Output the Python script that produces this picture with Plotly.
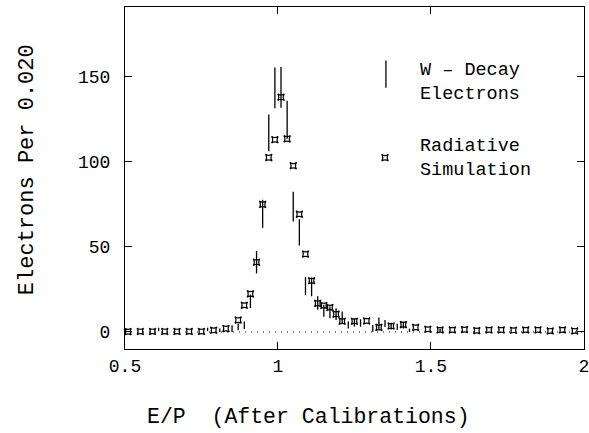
import plotly.graph_objects as go

# ---- data ----
# W-decay electrons: bin centre, count, error
data_x = [0.61, 0.77, 0.81, 0.85, 0.87, 0.89, 0.91, 0.93, 0.95, 0.97, 0.99, 1.01,
          1.03, 1.05, 1.07, 1.09, 1.11, 1.13, 1.15, 1.17, 1.19, 1.21, 1.23, 1.25,
          1.27, 1.31, 1.33, 1.35, 1.37, 1.39, 1.41, 1.43, 1.53]
data_y = [1.5, 1.5, 1.0, 2.0, 3.0, 4.0, 18.0, 41.0, 69.5, 117.0, 143.5, 143.8,
          124.7, 73.7, 58.5, 27.0, 26.5, 17.0, 12.5, 11.5, 10.5, 8.5, 4.1, 5.6,
          5.3, 2.1, 5.0, 5.0, 3.5, 3.0, 4.0, 1.0, 1.0]
data_err = [1.0, 1.0, 1.0, 2.0, 2.0, 2.2, 4.0, 6.6, 8.2, 10.8, 12.0, 12.0,
            11.2, 8.7, 7.7, 5.3, 5.5, 4.0, 3.5, 3.5, 3.5, 3.5, 2.0, 2.4,
            2.2, 2.0, 3.5, 2.0, 2.0, 1.8, 2.0, 1.0, 1.0]

# Radiative simulation
sim_x = [0.51, 0.55, 0.59, 0.63, 0.67, 0.71, 0.75, 0.79, 0.83, 0.87,
         0.89, 0.91, 0.93, 0.95, 0.97, 0.99, 1.01, 1.03, 1.05, 1.07,
         1.09, 1.11, 1.13, 1.15, 1.17, 1.19, 1.21, 1.25, 1.29, 1.33,
         1.37, 1.41, 1.45, 1.49, 1.53, 1.57, 1.61, 1.65, 1.69, 1.73,
         1.77, 1.81, 1.85, 1.89, 1.93, 1.97]
sim_y = [0.2, 0.3, 0.3, 0.3, 0.3, 0.3, 0.3, 1.0, 2.0, 7.0,
         15.7, 22.4, 41.0, 75.0, 102.5, 113.0, 138.0, 113.5, 97.7, 69.2,
         45.8, 30.1, 16.8, 15.6, 14.4, 10.5, 6.3, 6.3, 6.5, 2.7,
         3.5, 4.3, 2.7, 1.6, 1.2, 1.2, 1.4, 0.8, 1.2, 1.2,
         1.0, 1.2, 1.2, 0.6, 1.2, 0.6]

zero_x = [0.5, 2.0]
zero_y = [0.0, 0.0]

# legend glyph positions (data coords) and texts
leg_bar_x = [1.353]
leg_bar_y = [151.5]
leg_bar_err = [8.0]
leg_mark_x = [1.35]
leg_mark_y = [102.4]
leg_text = ["W \u2013 Decay<br>Electrons", "Radiative<br>Simulation"]
leg_text_x = [1.458, 1.458]
leg_text_y = [146.6, 101.8]

x_ticks = [0.5, 1, 1.5, 2]
x_ticktext = ["0.5", "1", "1.5", "2"]
y_ticks = [0, 50, 100, 150]

x_title = "E/P  (After Calibrations)"
y_title = "Electrons Per 0.020"

FONT = "Liberation Mono, Courier New, monospace"

fig = go.Figure()

fig.add_trace(go.Scatter(x=zero_x, y=zero_y, mode="lines",
                         line=dict(color="black", width=1, dash="1px,5px"),
                         hoverinfo="skip", showlegend=False))

fig.add_trace(go.Scatter(x=data_x, y=data_y, mode="markers",
                         marker=dict(size=1, color="rgba(0,0,0,0)"),
                         error_y=dict(type="data", array=data_err, color="black",
                                      thickness=1.3, width=0),
                         showlegend=False))

fig.add_trace(go.Scatter(x=sim_x, y=sim_y, mode="markers",
                         marker=dict(symbol="star-square-open", size=6, color="black",
                                     line=dict(width=1.2, color="black")),
                         showlegend=False))

# legend glyphs
fig.add_trace(go.Scatter(x=leg_bar_x, y=leg_bar_y, mode="markers",
                         marker=dict(size=1, color="rgba(0,0,0,0)"),
                         error_y=dict(type="data", array=leg_bar_err, color="black",
                                      thickness=1.3, width=0),
                         showlegend=False))
fig.add_trace(go.Scatter(x=leg_mark_x, y=leg_mark_y, mode="markers",
                         marker=dict(symbol="star-square-open", size=6, color="black",
                                     line=dict(width=1.2, color="black")),
                         showlegend=False))

for t, tx, ty in zip(leg_text, leg_text_x, leg_text_y):
    fig.add_annotation(x=tx, y=ty, xref="x", yref="y", text=t, showarrow=False,
                       xanchor="left", yanchor="middle", align="left",
                       font=dict(family=FONT, size=18.5, color="black"))

# axis titles
fig.add_annotation(x=0.3987, y=-0.20, xref="paper", yref="paper", text=x_title,
                   showarrow=False, xanchor="center", yanchor="middle",
                   font=dict(family=FONT, size=21.5, color="black"))
fig.add_annotation(x=-0.2135, y=0.523, xref="paper", yref="paper", text=y_title,
                   showarrow=False, xanchor="center", yanchor="middle", textangle=-90,
                   font=dict(family=FONT, size=22, color="black"))

fig.update_layout(
    width=589, height=433,
    margin=dict(l=125, r=5, t=7, b=84),
    paper_bgcolor="white", plot_bgcolor="white",
    font=dict(family=FONT, color="black"),
    showlegend=False,
)
fig.update_xaxes(range=[0.5, 2.0005], tickvals=x_ticks, ticktext=x_ticktext,
                 ticks="inside", ticklen=7, tickcolor="black", tickwidth=1,
                 showline=True, linecolor="black", linewidth=1, mirror="ticks",
                 showgrid=False, zeroline=False, ticklabeloverflow="allow",
                 automargin=False,
                 tickfont=dict(family=FONT, size=18), ticklabelstandoff=0)
fig.update_yaxes(range=[-10, 191], tickvals=y_ticks,
                 ticks="inside", ticklen=7, tickcolor="black", tickwidth=1,
                 showline=True, linecolor="black", linewidth=1, mirror="ticks",
                 showgrid=False, zeroline=False, automargin=False,
                 tickfont=dict(family=FONT, size=18), ticklabelstandoff=10)

fig.write_html("out.html")
